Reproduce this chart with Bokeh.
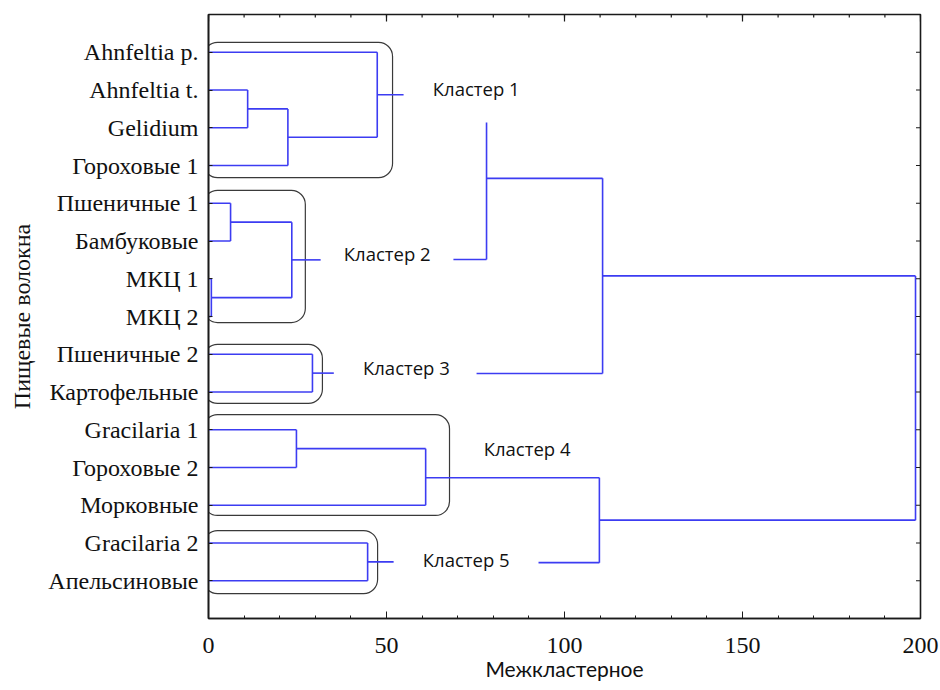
import math
from bokeh.plotting import figure
from bokeh.models import Range1d, FixedTicker, ColumnDataSource
from bokeh.core.properties import value
from bokeh.embed import file_html
from bokeh.resources import INLINE

# ---------------- data ----------------
leaves = ["Ahnfeltia p.", "Ahnfeltia t.", "Gelidium", "Гороховые 1",
          "Пшеничные 1", "Бамбуковые", "МКЦ 1", "МКЦ 2",
          "Пшеничные 2", "Картофельные",
          "Gracilaria 1", "Гороховые 2", "Морковные",
          "Gracilaria 2", "Апельсиновые"]

# within-cluster merges: node n1..n10 in order
merge_a = ["Ahnfeltia t.", "n1", "Ahnfeltia p.", "Пшеничные 1", "МКЦ 1", "n4",
           "Пшеничные 2", "Gracilaria 1", "n8", "Gracilaria 2"]
merge_b = ["Gelidium", "Гороховые 1", "n2", "Бамбуковые", "МКЦ 2", "n5",
           "Картофельные", "Гороховые 2", "Морковные", "Апельсиновые"]
merge_h = [11.0, 22.3, 47.4, 6.2, 0.8, 23.4, 29.2, 24.7, 61.0, 44.7]

cluster_names = ["Кластер 1", "Кластер 2", "Кластер 3", "Кластер 4", "Кластер 5"]
cluster_root = ["n3", "n6", "n7", "n9", "n10"]
cluster_stub_end = [54.8, 31.5, 35.2, 61.0, 52.0]
cluster_link_start = [78.1, 68.8, 75.3, 61.0, 92.7]
cluster_link_y = [2.86, 6.49, 9.51, 12.27, 14.52]

# between-cluster merges: nodes u1..u4
upper_a = ["Кластер 1", "u1", "Кластер 4", "u2"]
upper_b = ["Кластер 2", "Кластер 3", "Кластер 5", "u3"]
upper_h = [78.1, 110.7, 109.8, 198.6]
upper_join_y = [4.34, None, None, None]

x_ticks = [0, 50, 100, 150, 200]
x_minor = list(range(0, 201, 10))
x_title = "Межкластерное"
y_title = "Пищевые волокна"

# ---------------- geometry from the tree ----------------
pos = {name: (0.0, i + 1.0) for i, name in enumerate(leaves)}
x0, x1, y0, y1 = [], [], [], []

def seg(a, b, c, d):
    x0.append(a); y0.append(b); x1.append(c); y1.append(d)

for k, (a, b, h) in enumerate(zip(merge_a, merge_b, merge_h)):
    (xa, ya), (xb, yb) = pos[a], pos[b]
    seg(xa, ya, h, ya)
    seg(xb, yb, h, yb)
    seg(h, ya, h, yb)
    pos["n%d" % (k + 1)] = (h, (ya + yb) / 2)

upos = {}
for name, root, stub, start, ly in zip(cluster_names, cluster_root,
                                       cluster_stub_end, cluster_link_start,
                                       cluster_link_y):
    h, ny = pos[root]
    if stub > h:
        seg(h, ny, stub, ny)
    upos[name] = (start, ly)

for k, (a, b, h, jy) in enumerate(zip(upper_a, upper_b, upper_h, upper_join_y)):
    (xa, ya), (xb, yb) = upos[a], upos[b]
    if h > xa:
        seg(xa, ya, h, ya)
    if h > xb:
        seg(xb, yb, h, yb)
    seg(h, ya, h, yb)
    upos["u%d" % (k + 1)] = (h, jy if jy is not None else (ya + yb) / 2)

# rounded boxes around clusters and their labels
box_right = [51.7, 27.2, 32.0, 67.7, 47.5]
box_top = [0.74, 4.66, 8.74, 10.60, 13.67]
box_bottom = [4.32, 8.16, 10.30, 13.27, 15.34]
label_x = [63.0, 38.0, 43.4, 77.3, 60.2]
label_y = [1.96, 6.33, 9.35, 11.5, 14.44]

# ---------------- figure ----------------
p = figure(width=940, height=690, output_backend="svg", toolbar_location=None,
           x_range=Range1d(0, 200), y_range=Range1d(16, 0),
           min_border_left=208, min_border_right=20,
           min_border_top=14, min_border_bottom=72,
           x_axis_label=x_title, y_axis_label=y_title)
p.grid.visible = False
p.outline_line_color = "#1a1a1a"
p.outline_line_width = 1.6
p.background_fill_color = "white"

p.quad(left=[-1.4] * 5, right=box_right, top=box_top, bottom=box_bottom,
       fill_color=None, line_color="#3a3a3a", line_width=1.2, border_radius=14)

src = ColumnDataSource(dict(x0=x0, y0=y0, x1=x1, y1=y1))
p.segment("x0", "y0", "x1", "y1", source=src, line_color="#3c3cf2", line_width=1.6)

p.text(x=label_x, y=label_y, text=cluster_names, text_font=value("Open Sans"),
       text_font_size="18.5px", text_color="#111111", text_baseline="middle",
       text_align="left")

# inward ticks along the top and right frame edges (clipped to the frame)
n = len(leaves)
tick_col = "#1a1a1a"
p.scatter(x=x_minor, y=[0] * len(x_minor), marker="dash", angle=math.pi / 2,
          size=6, line_color=tick_col, line_width=1.2)
p.scatter(x=x_ticks, y=[0] * len(x_ticks), marker="dash", angle=math.pi / 2,
          size=14, line_color=tick_col, line_width=1.2)
p.scatter(x=[200] * n, y=list(range(1, n + 1)), marker="dash",
          size=9, line_color=tick_col, line_width=1.2)

serif = "Liberation Serif"

xa = p.xaxis[0]
xa.ticker = FixedTicker(ticks=x_ticks, minor_ticks=x_minor)
xa.major_label_text_font = serif
xa.major_label_text_font_size = "24px"
xa.major_label_standoff = 19
xa.axis_label_text_font = "Lato"
xa.axis_label_text_font_size = "21px"
xa.axis_label_text_font_style = "normal"
xa.axis_label_standoff = 0
xa.major_tick_in = 7
xa.minor_tick_in = 3

ya = p.yaxis[0]
ya.ticker = FixedTicker(ticks=list(range(1, n + 1)))
ya.major_label_overrides = {i + 1: name for i, name in enumerate(leaves)}
ya.major_label_text_font = serif
ya.major_label_text_font_size = "24px"
ya.major_label_standoff = 10
ya.axis_label_text_font = serif
ya.axis_label_text_font_size = "24px"
ya.axis_label_text_font_style = "normal"
ya.axis_label_standoff = 10
ya.major_tick_in = 4
ya.minor_tick_in = 0

for ax in [xa, ya]:
    ax.axis_line_color = tick_col
    ax.axis_line_width = 1.6
    ax.major_tick_line_color = tick_col
    ax.minor_tick_line_color = tick_col
    ax.major_tick_out = 0
    ax.minor_tick_out = 0
    ax.major_label_text_color = "#111111"
    ax.axis_label_text_color = "#111111"

open("out.html", "w").write(file_html(p, INLINE))
